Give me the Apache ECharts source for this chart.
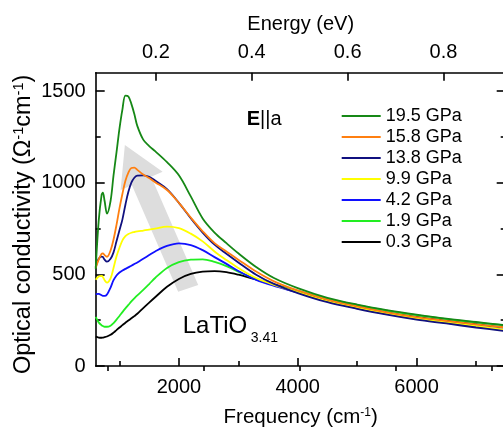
<!DOCTYPE html>
<html>
<head>
<meta charset="utf-8">
<script src="https://cdn.jsdelivr.net/npm/echarts/dist/echarts.min.js"></script>
<style>
  html, body { margin: 0; padding: 0; background: #fff; }
  #chart { width: 503px; height: 427px; }
</style>
</head>
<body>
<div id="chart"></div>
<script>
// frequency grid (cm^-1), shared by every curve
const freq = [600, 650, 700, 720, 750, 790, 850, 900, 950, 1000, 1050, 1100, 1150, 1200, 1250, 1300,
  1400, 1500, 1600, 1800, 2000, 2200, 2400, 2600, 2800, 3000, 3300, 3600, 4000, 4500, 5000, 5500,
  6000, 6500, 7000, 7500];

// optical conductivity (Ohm^-1 cm^-1)
const sigma195 = [530, 790, 935, 945, 900, 832, 900, 1040, 1165, 1295, 1400, 1475, 1470, 1430, 1375, 1310,
  1235, 1200, 1172, 1112, 1040, 925, 805, 728, 670, 615, 540, 480, 425, 372, 335, 305, 280, 258, 240, 222];
const sigma158 = [535, 580, 612, 614, 605, 596, 630, 690, 770, 860, 940, 1010, 1055, 1080, 1082, 1070,
  1045, 1025, 1003, 960, 890, 810, 735, 670, 625, 580, 515, 462, 412, 362, 325, 293, 267, 246, 227, 210];
const sigma138 = [540, 585, 597, 595, 580, 569, 585, 620, 680, 740, 800, 880, 950, 1000, 1027, 1038,
  1040, 1032, 1012, 965, 890, 806, 728, 662, 612, 565, 498, 448, 398, 348, 312, 280, 253, 232, 210, 190];
const sigma99 = [470, 488, 492, 486, 468, 455, 478, 535, 598, 645, 685, 708, 720, 727, 731, 734,
  739, 744, 750, 760, 752, 722, 680, 625, 578, 535, 480, 443, 403, 354, 318, 286, 260, 238, 218, 197];
const sigma42 = [392, 393, 386, 383, 382, 390, 428, 468, 494, 510, 521, 530, 538, 547, 556, 565,
  585, 605, 625, 655, 669, 660, 632, 594, 557, 518, 470, 437, 401, 352, 316, 284, 258, 236, 216, 196];
const sigma19 = [268, 238, 222, 218, 214, 214, 220, 234, 253, 273, 294, 314, 333, 352, 369, 385,
  415, 447, 480, 535, 567, 580, 582, 568, 545, 515, 473, 443, 410, 366, 332, 302, 277, 256, 238, 221];
const sigma03 = [160, 155, 154, 155, 157, 161, 170, 182, 196, 210, 223, 236, 248, 260, 272, 285,
  316, 346, 375, 432, 475, 502, 515, 518, 512, 498, 472, 446, 406, 360, 324, 293, 268, 247, 228, 209];

const pressures = ['0.3 GPa', '1.9 GPa', '4.2 GPa', '9.9 GPa', '13.8 GPa', '15.8 GPa', '19.5 GPa'];
const curves = [sigma03, sigma19, sigma42, sigma99, sigma138, sigma158, sigma195];
const colors = ['#000000', '#22ee22', '#1010ff', '#ffff00', '#10107f', '#ff7f10', '#168816'];

const yMajorTicks = [0, 500, 1000, 1500];
const yMinorTicks = [250, 750, 1250];
const freqMajorTicks = [2000, 4000, 6000];
const freqMinorTicks = [1000, 3000, 5000, 7000];
const energyMajorTicks = [0.2, 0.4, 0.6, 0.8];
const energyMinorTicks = [0.1, 0.3, 0.5, 0.7, 0.9];
const EV_TO_CM = 8065.54;

// grey pressure arrow, in data coordinates (cm^-1, sigma)
const arrowShape = [[1988, 405], [1210, 986], [1019, 960], [1091, 1205], [1726, 1059], [1534, 1033], [2325, 442]];

const FONT = 'Liberation Sans';
const chart = echarts.init(document.getElementById('chart'));

function xAxisBase(position) {
  return {
    type: 'value', position: position, min: 600, max: 7500,
    splitLine: { show: false },
    axisLine: { show: false },
    axisLabel: { show: false },
    axisTick: { show: false }
  };
}
function yAxisBase(position) {
  return {
    type: 'value', position: position, min: 0, max: 1600,
    splitLine: { show: false },
    axisLine: { show: false },
    axisLabel: { show: false },
    axisTick: { show: false }
  };
}
const lineStyle = { color: '#000', width: 1.6 };
const tick = (vals, len) => ({ show: true, inside: true, length: len, customValues: vals, lineStyle: lineStyle });
const plain = v => String(v);

const xBottom = Object.assign(xAxisBase('bottom'), {
  axisLine: { show: true, onZero: false, lineStyle: lineStyle },
  axisTick: tick(freqMajorTicks, 8),
  axisLabel: { show: true, customValues: freqMajorTicks, margin: 11, fontSize: 20, fontFamily: FONT, color: '#000', formatter: plain },
  name: '{t|Frequency (cm}{s|-1}{t|)}',
  nameLocation: 'middle', nameGap: 41,
  nameTextStyle: {
    rich: {
      t: { fontSize: 20.5, fontFamily: FONT, color: '#000' },
      s: { fontSize: 12, fontFamily: FONT, color: '#000', verticalAlign: 'top' }
    }
  }
});
const xBottomMinor = Object.assign(xAxisBase('bottom'), { axisTick: tick(freqMinorTicks, 5) });
const xTop = Object.assign(xAxisBase('top'), {
  axisLine: { show: true, onZero: false, lineStyle: lineStyle },
  axisTick: tick(energyMajorTicks.map(e => e * EV_TO_CM), 8),
  axisLabel: {
    show: true, customValues: energyMajorTicks.map(e => e * EV_TO_CM), margin: 10,
    fontSize: 20, fontFamily: FONT, color: '#000',
    formatter: v => (v / EV_TO_CM).toFixed(1)
  },
  name: 'Energy (eV)', nameLocation: 'middle', nameGap: 38,
  nameTextStyle: { fontSize: 20, fontFamily: FONT, color: '#000' }
});
const xTopMinor = Object.assign(xAxisBase('top'), { axisTick: tick(energyMinorTicks.map(e => e * EV_TO_CM), 5) });

const yLeft = Object.assign(yAxisBase('left'), {
  axisLine: { show: true, onZero: false, lineStyle: lineStyle },
  axisTick: tick(yMajorTicks, 9),
  axisLabel: { show: true, customValues: yMajorTicks, margin: 10, fontSize: 20, fontFamily: FONT, color: '#000', formatter: plain },
  name: '{t|Optical conductivity (Ω}{s|-1}{t|cm}{s|-1}{t|)}',
  nameLocation: 'middle', nameGap: 60, nameRotate: 90, nameMoveOverlap: false,
  nameTextStyle: {
    padding: [0, 10, 0, 0],
    rich: {
      t: { fontSize: 23.5, fontFamily: FONT, color: '#000' },
      s: { fontSize: 14.5, fontFamily: FONT, color: '#000', verticalAlign: 'top' }
    }
  }
});
const yLeftMinor = Object.assign(yAxisBase('left'), { axisTick: tick(yMinorTicks, 5) });
const yRight = Object.assign(yAxisBase('right'), {
  axisLine: { show: true, onZero: false, lineStyle: lineStyle },
  axisTick: tick(yMajorTicks, 9)
});
const yRightMinor = Object.assign(yAxisBase('right'), { axisTick: tick(yMinorTicks, 5) });

const series = curves.map((vals, i) => ({
  name: pressures[i],
  type: 'line',
  xAxisIndex: 0,
  yAxisIndex: 0,
  data: freq.map((f, j) => [f, vals[j]]),
  smooth: 0.35,
  symbol: 'none',
  lineStyle: { color: colors[i], width: 1.8 },
  itemStyle: { color: colors[i] },
  z: 3
}));

chart.setOption({
  animation: false,
  backgroundColor: '#fff',
  grid: { left: 95.7, top: 72.7, right: -2.7, bottom: 61, containLabel: false, outerBoundsMode: 'none' },
  xAxis: [xBottom, xBottomMinor, xTop, xTopMinor],
  yAxis: [yLeft, yLeftMinor, yRight, yRightMinor],
  legend: {
    orient: 'vertical', left: 341.7, top: 107, padding: 0,
    icon: 'rect', itemWidth: 39, itemHeight: 2, itemGap: 3,
    textStyle: { fontSize: 18, fontFamily: FONT, color: '#000' },
    data: pressures.slice().reverse()
  },
  series: series
});

const arrowPx = arrowShape.map(p => chart.convertToPixel({ xAxisIndex: 0, yAxisIndex: 0 }, p));
chart.setOption({
  graphic: [
    { type: 'polygon', z: 1, shape: { points: arrowPx }, style: { fill: '#dddddd' } },
    {
      type: 'text', x: 246.7, y: 119, z: 5,
      style: {
        text: '{b|E}||a', fontSize: 20, fontFamily: FONT, fill: '#000', verticalAlign: 'middle',
        rich: { b: { fontWeight: 'bold', fontSize: 20, fontFamily: FONT, fill: '#000' } }
      }
    },
    { type: 'text', x: 182.7, y: 326, z: 5, style: { text: 'LaTiO', fontSize: 24, fontFamily: FONT, fill: '#000', verticalAlign: 'middle' } },
    { type: 'text', x: 250.7, y: 338, z: 5, style: { text: '3.41', fontSize: 14, fontFamily: FONT, fill: '#000', verticalAlign: 'middle' } }
  ]
});
</script>
</body>
</html>
